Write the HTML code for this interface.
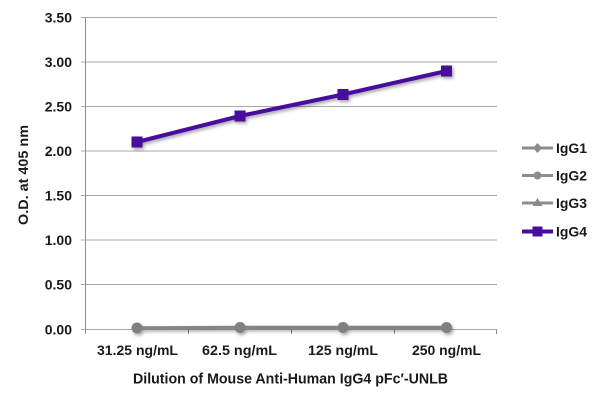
<!DOCTYPE html>
<html><head><meta charset="utf-8"><style>
html,body{margin:0;padding:0;background:#fff;}
svg{display:block;}
text{font-family:"Liberation Sans",Arial,sans-serif;font-weight:bold;fill:#1a1a1a;}
</style></head><body>
<svg width="600" height="400" viewBox="0 0 600 400" xmlns="http://www.w3.org/2000/svg">
<defs>
<filter id="sh" x="-20%" y="-50%" width="140%" height="200%">
<feDropShadow dx="1.5" dy="2" stdDeviation="1.5" flood-color="#000" flood-opacity="0.35"/>
</filter>
</defs>
<!-- gridlines -->
<g stroke="#a8a8a8" stroke-width="1">
<line x1="81" y1="17.5" x2="497" y2="17.5"/>
<line x1="81" y1="62" x2="497" y2="62"/>
<line x1="81" y1="106.5" x2="497" y2="106.5"/>
<line x1="81" y1="151" x2="497" y2="151"/>
<line x1="81" y1="195.5" x2="497" y2="195.5"/>
<line x1="81" y1="240" x2="497" y2="240"/>
<line x1="81" y1="284.5" x2="497" y2="284.5"/>
<line x1="81" y1="329.5" x2="497" y2="329.5"/>
</g>
<!-- axes -->
<g stroke="#8c8c8c" stroke-width="1">
<line x1="85.5" y1="17" x2="85.5" y2="334"/>
<line x1="188.5" y1="329.5" x2="188.5" y2="334"/>
<line x1="291.5" y1="329.5" x2="291.5" y2="334"/>
<line x1="394.5" y1="329.5" x2="394.5" y2="334"/>
<line x1="496.5" y1="329.5" x2="496.5" y2="334"/>
</g>
<!-- y tick labels -->
<g font-size="14" text-anchor="end">
<text x="72" y="22.5">3.50</text>
<text x="72" y="67">3.00</text>
<text x="72" y="111.5">2.50</text>
<text x="72" y="156">2.00</text>
<text x="72" y="200.5">1.50</text>
<text x="72" y="245">1.00</text>
<text x="72" y="289.5">0.50</text>
<text x="72" y="334.5">0.00</text>
</g>
<!-- x labels -->
<g font-size="14" text-anchor="middle">
<text x="137.5" y="355" textLength="81" lengthAdjust="spacingAndGlyphs">31.25 ng/mL</text>
<text x="239.5" y="355" textLength="75" lengthAdjust="spacingAndGlyphs">62.5 ng/mL</text>
<text x="343" y="355" textLength="70" lengthAdjust="spacingAndGlyphs">125 ng/mL</text>
<text x="446.5" y="355" textLength="69" lengthAdjust="spacingAndGlyphs">250 ng/mL</text>
</g>
<text x="290.5" y="383.5" font-size="15" text-anchor="middle" textLength="315" lengthAdjust="spacingAndGlyphs">Dilution of Mouse Anti-Human IgG4 pFc′-UNLB</text>
<text transform="translate(28,175) rotate(-90)" font-size="14" text-anchor="middle" textLength="100" lengthAdjust="spacingAndGlyphs">O.D. at 405 nm</text>
<!-- gray series -->
<g filter="url(#sh)">
<polyline points="137,328 240,327.5 343,327.5 446.5,327.5" fill="none" stroke="#858585" stroke-width="3.5"/>
<g fill="#808080">
<circle cx="137" cy="328" r="5.5"/>
<circle cx="240" cy="327.5" r="5.5"/>
<circle cx="343" cy="327.5" r="5.5"/>
<circle cx="446.5" cy="327.5" r="5.5"/>
</g>
</g>
<!-- IgG4 -->
<g filter="url(#sh)">
<polyline points="137,142 240,116 343,94.5 446.5,71" fill="none" stroke="#4a0c9e" stroke-width="4"/>
<g fill="#4a0c9e">
<rect x="131.5" y="136.5" width="11" height="11"/>
<rect x="234.5" y="110.5" width="11" height="11"/>
<rect x="337.5" y="89" width="11" height="11"/>
<rect x="441" y="65.5" width="11" height="11"/>
</g>
</g>
<!-- legend -->
<g>
<line x1="522" y1="148" x2="553" y2="148" stroke="#8c8c8c" stroke-width="3"/>
<path d="M537.5 143 L542 148 L537.5 153 L533 148 Z" fill="#8c8c8c"/>
<line x1="522" y1="175.5" x2="553" y2="175.5" stroke="#8c8c8c" stroke-width="3"/>
<circle cx="537.5" cy="175.5" r="4" fill="#8c8c8c"/>
<line x1="522" y1="203" x2="553" y2="203" stroke="#8c8c8c" stroke-width="3"/>
<path d="M537.5 198 L542.5 206 L532.5 206 Z" fill="#8c8c8c"/>
<line x1="522" y1="231.5" x2="553" y2="231.5" stroke="#4a0c9e" stroke-width="4"/>
<rect x="532.5" y="226.5" width="10" height="10" fill="#4a0c9e"/>
</g>
<g font-size="14">
<text x="556" y="153" textLength="31" lengthAdjust="spacingAndGlyphs">IgG1</text>
<text x="556" y="180.5" textLength="31" lengthAdjust="spacingAndGlyphs">IgG2</text>
<text x="556" y="208" textLength="31" lengthAdjust="spacingAndGlyphs">IgG3</text>
<text x="556" y="236.5" textLength="31" lengthAdjust="spacingAndGlyphs">IgG4</text>
</g>
</svg>
</body></html>
